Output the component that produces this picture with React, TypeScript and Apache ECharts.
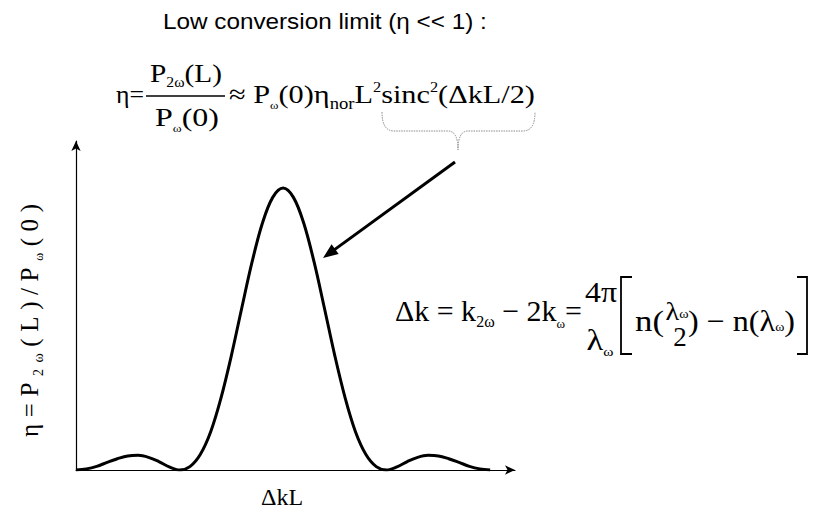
import React, { useEffect, useRef } from "react";
import * as echarts from "echarts";

// Phase mismatch ΔkL/2, in units of π
const phaseMismatch = [
  -2.0, -1.9, -1.8, -1.7, -1.6, -1.5, -1.4, -1.3, -1.2, -1.1, -1.0,
  -0.9, -0.8, -0.7, -0.6, -0.5, -0.4, -0.3, -0.2, -0.1, 0.0,
  0.1, 0.2, 0.3, 0.4, 0.5, 0.6, 0.7, 0.8, 0.9, 1.0,
  1.1, 1.2, 1.3, 1.4, 1.5, 1.6, 1.7, 1.8, 1.9, 2.0,
];

// Normalised conversion efficiency η / η(Δk = 0)
const efficiency = [
  0.0, 0.004, 0.013, 0.027, 0.04, 0.05, 0.052, 0.045, 0.03, 0.011, 0.0,
  0.012, 0.055, 0.135, 0.255, 0.405, 0.573, 0.737, 0.875, 0.967, 1.0,
  0.967, 0.875, 0.737, 0.573, 0.405, 0.255, 0.135, 0.055, 0.012, 0.0,
  0.011, 0.03, 0.045, 0.052, 0.05, 0.04, 0.027, 0.013, 0.004, 0.0,
];

// Axis extents (the extra room at the top/right holds the arrow heads)
const X_MIN = -2;
const X_MAX = 2.24;
const Y_MIN = 0;
const Y_MAX = 1.167;

// Single family names: a comma list is lost inside the SVG style attribute
const SERIF = "Liberation Serif";
const SANS = "Liberation Sans";
// distance from the alphabetic baseline to the "central" baseline, in em
const CENTRAL = 0.3375;

type Run = { t: string; s?: number; dy?: number };

let measureCtx: CanvasRenderingContext2D | null = null;
function textWidth(t: string, size: number, family: string): number {
  if (!measureCtx) measureCtx = document.createElement("canvas").getContext("2d");
  if (!measureCtx) return t.length * size * 0.5;
  measureCtx.font = `${size}px ${family}`;
  return measureCtx.measureText(t).width;
}

// Lays out differently sized pieces (subscripts, superscripts) on one baseline.
// A target width is met by scaling the line horizontally, or, with `spread`,
// by spacing the glyphs out.
function textLine(
  runs: Run[],
  o: {
    x: number;
    baseline: number;
    size: number;
    family?: string;
    width?: number;
    spread?: boolean;
    align?: "left" | "center" | "right";
    color?: string;
  }
): any {
  const family = o.family ?? SERIF;
  const color = o.color ?? "#000";

  const pieces: { t: string; size: number; dy: number; w: number }[] = [];
  runs.forEach((r) => {
    const size = r.s ?? o.size;
    const parts = o.spread ? Array.from(r.t) : [r.t];
    parts.forEach((t) => pieces.push({ t, size, dy: r.dy ?? 0, w: textWidth(t, size, family) }));
  });
  const natural = pieces.reduce((a, p) => a + p.w, 0);
  let gap = 0;
  let scale = 1;
  if (o.width) {
    if (o.spread && o.width >= natural && pieces.length > 1) {
      gap = (o.width - natural) / (pieces.length - 1);
    } else {
      scale = o.width / natural;
    }
  }

  let cx = 0;
  const children = pieces.map((p, i) => {
    const el = {
      type: "text",
      x: cx,
      y: o.baseline + p.dy - CENTRAL * p.size,
      silent: true,
      style: {
        text: p.t,
        font: `${p.size}px ${family}`,
        fill: color,
        align: "left",
        verticalAlign: "middle",
      },
    };
    cx += p.w + (i < pieces.length - 1 ? gap : 0);
    return el;
  });
  const w = cx * scale;
  const align = o.align ?? "left";
  const left = align === "center" ? o.x - w / 2 : align === "right" ? o.x - w : o.x;
  return { type: "group", x: left, y: 0, scaleX: scale, silent: true, children };
}

function hLine(x1: number, x2: number, y: number, w = 1.4): any {
  return {
    type: "line",
    silent: true,
    shape: { x1, y1: y, x2, y2: y },
    style: { stroke: "#000", lineWidth: w },
  };
}

function squareBracket(x: number, top: number, bottom: number, serif: number): any {
  return {
    type: "polyline",
    silent: true,
    shape: {
      points: [
        [x + serif, top],
        [x, top],
        [x, bottom],
        [x + serif, bottom],
      ],
    },
    style: { stroke: "#000", lineWidth: 1.8, fill: "none" },
  };
}

function arrow(x1: number, y1: number, x2: number, y2: number): any[] {
  const len = Math.hypot(x2 - x1, y2 - y1);
  const ux = (x2 - x1) / len;
  const uy = (y2 - y1) / len;
  const headLen = 15;
  const headHalf = 6;
  const bx = x2 - ux * headLen;
  const by = y2 - uy * headLen;
  const px = -uy;
  const py = ux;
  return [
    {
      type: "line",
      silent: true,
      shape: { x1, y1, x2: bx + ux * 2, y2: by + uy * 2 },
      style: { stroke: "#000", lineWidth: 3 },
    },
    {
      type: "polygon",
      silent: true,
      shape: {
        points: [
          [x2, y2],
          [bx + px * headHalf, by + py * headHalf],
          [bx - px * headHalf, by - py * headHalf],
        ],
      },
      style: { fill: "#000" },
    },
  ];
}

let braceRegistered = false;
function registerBrace() {
  if (braceRegistered) return;
  const d =
    "M0,0 Q0,19 12,19 L66,19 Q76,19 76,38 Q76,19 86,19 L141,19 Q153,19 153,0";
  echarts.graphic.registerShape("brace", echarts.graphic.extendPath(d, {}) as any);
  braceRegistered = true;
}

function buildGraphics(): any[] {
  const els: any[] = [];

  // Heading
  els.push(
    textLine([{ t: "Low conversion limit (η << 1) :" }], {
      x: 325,
      baseline: 29,
      size: 22,
      family: SANS,
      width: 324,
      align: "center",
    })
  );

  // η = P2ω(L)/Pω(0) ≈ Pω(0) ηnor L² sinc²(ΔkL/2)
  els.push(textLine([{ t: "η=" }], { x: 116, baseline: 103, size: 26, width: 28 }));
  els.push(
    textLine([{ t: "P" }, { t: "2ω", s: 14, dy: 5 }, { t: "(L)" }], {
      x: 186,
      baseline: 82,
      size: 26,
      width: 72,
      align: "center",
    })
  );
  els.push(hLine(146, 225, 96, 1.5));
  els.push(
    textLine([{ t: "P" }, { t: "ω", s: 11, dy: 6 }, { t: "(0)" }], {
      x: 187,
      baseline: 126,
      size: 26,
      width: 64,
      align: "center",
    })
  );
  els.push(
    textLine(
      [
        { t: "≈ P" },
        { t: "ω", s: 11, dy: 6 },
        { t: "(0)η" },
        { t: "nor", s: 16, dy: 6 },
        { t: "L" },
        { t: "2", s: 14, dy: -11 },
        { t: "sinc" },
        { t: "2", s: 14, dy: -11 },
        { t: "(ΔkL/2)" },
      ],
      { x: 229, baseline: 103, size: 26, width: 306 }
    )
  );

  // Curly brace under sinc²(ΔkL/2) and the arrow down to the curve
  els.push({
    type: "brace",
    x: 382,
    y: 112,
    silent: true,
    style: { stroke: "#8a8a8a", lineWidth: 1, fill: "none", lineDash: [1.5, 1] },
  });
  els.push(...arrow(455, 162, 323, 258));

  // Δk = k2ω − 2kω = 4π/λω [ n(λω/2) − n(λω) ]
  els.push(
    textLine(
      [
        { t: "Δk = k" },
        { t: "2ω", s: 16, dy: 6 },
        { t: " − 2k" },
        { t: "ω", s: 13, dy: 7 },
        { t: "=" },
      ],
      { x: 395, baseline: 321, size: 30, width: 187 }
    )
  );
  els.push(textLine([{ t: "4π" }], { x: 601, baseline: 302, size: 29, width: 32, align: "center" }));
  els.push(
    textLine([{ t: "λ" }, { t: "ω", s: 13, dy: 6 }], {
      x: 600,
      baseline: 350,
      size: 29,
      width: 27,
      align: "center",
    })
  );
  els.push(squareBracket(621, 277, 354, 11));
  els.push(textLine([{ t: "n(" }], { x: 635, baseline: 331, size: 30, width: 29 }));
  els.push(
    textLine([{ t: "λ" }, { t: "ω", s: 13, dy: -2 }], {
      x: 677,
      baseline: 320,
      size: 26,
      width: 23,
      align: "center",
    })
  );
  els.push(textLine([{ t: "2" }], { x: 680, baseline: 346, size: 27, align: "center" }));
  els.push(
    textLine([{ t: ")" }, { t: " − n(λ" }, { t: "ω", s: 13, dy: 0 }, { t: ")" }], {
      x: 688,
      baseline: 331,
      size: 30,
      width: 107,
    })
  );
  els.push(squareBracket(807, 277, 354, -10));

  // Axis titles
  els.push({
    type: "group",
    x: 38,
    y: 437,
    rotation: Math.PI / 2,
    silent: true,
    children: [
      textLine(
        [
          { t: "η=P" },
          { t: "2ω", s: 14, dy: 5 },
          { t: "(L)/P" },
          { t: "ω", s: 12, dy: 5 },
          { t: "(0)" },
        ],
        { x: 0, baseline: 0, size: 25, width: 233, spread: true }
      ),
    ],
  });
  els.push(textLine([{ t: "ΔkL" }], { x: 282, baseline: 505, size: 24, align: "center" }));

  return els;
}

export default function App() {
  const ref = useRef<HTMLDivElement>(null);

  useEffect(() => {
    if (!ref.current) return;
    registerBrace();
    const chart = echarts.init(ref.current, undefined, { renderer: "svg" });

    const axisLine = {
      show: true,
      onZero: false,
      symbol: ["none", "arrow"],
      symbolSize: [7, 10],
      lineStyle: { color: "#000", width: 1.2 },
    };

    chart.setOption({
      animation: false,
      backgroundColor: "#fff",
      grid: { left: 76, top: 141, width: 439, height: 329, containLabel: false },
      xAxis: {
        type: "value",
        min: X_MIN,
        max: X_MAX,
        axisLine,
        axisTick: { show: false },
        axisLabel: { show: false },
        splitLine: { show: false },
      },
      yAxis: {
        type: "value",
        min: Y_MIN,
        max: Y_MAX,
        axisLine,
        axisTick: { show: false },
        axisLabel: { show: false },
        splitLine: { show: false },
      },
      series: [
        {
          type: "line",
          data: phaseMismatch.map((x, i) => [x, efficiency[i]]),
          smooth: 0.35,
          showSymbol: false,
          lineStyle: { color: "#000", width: 3 },
          z: 3,
        },
      ],
      graphic: buildGraphics(),
    });

    return () => chart.dispose();
  }, []);

  return (
    <div
      ref={ref}
      style={{ position: "fixed", left: 0, top: 0, width: 818, height: 515, background: "#fff" }}
    />
  );
}
